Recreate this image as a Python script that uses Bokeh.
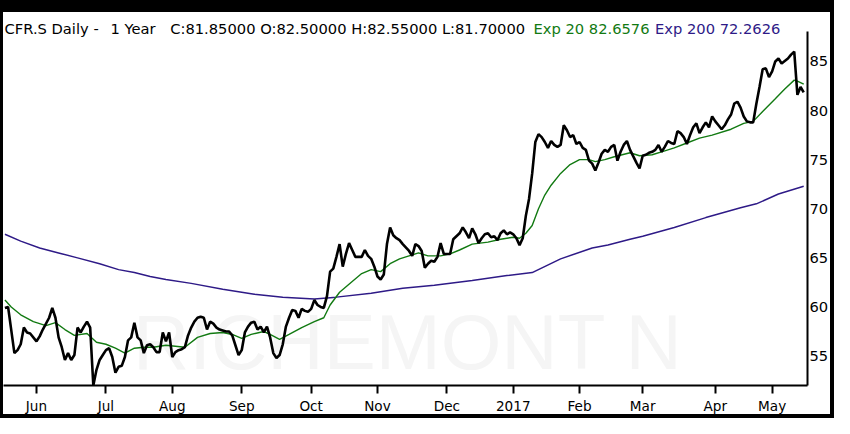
from bokeh.plotting import figure
from bokeh.models import Range1d, FixedTicker, Label
from bokeh.embed import file_html
from bokeh.resources import INLINE
import numpy as np

# ---------------- data ----------------
symbol = "CFR.S"
period = "1 Year"
last_close, last_open, last_high, last_low = 81.85, 82.50, 82.55, 81.70
ema20_last, ema200_last = 82.6576, 72.2626

# trading sessions: 10 sessions of late May 2016, then sessions per month
lead_sessions = 10
month_labels = ["Jun", "Jul", "Aug", "Sep", "Oct", "Nov", "Dec", "2017",
                "Feb", "Mar", "Apr", "May"]
sessions_per_month = [22, 21, 22, 22, 21, 22, 21, 21, 20, 23, 18]

close_day = [0, 1, 3, 4, 5, 6, 7, 8, 10, 11, 12, 14, 15, 16, 17, 18, 19, 20,
             21, 22, 23, 24, 25, 26, 27, 28, 29, 30, 31, 32, 33, 34, 35, 36,
             37, 38, 39, 40, 41, 42, 43, 44, 45, 46, 47, 48, 49, 50, 51, 52,
             53, 54, 55, 56, 57, 58, 59, 60, 61, 62, 63, 64, 65, 66, 67, 68,
             70, 71, 72, 73, 74, 75, 76, 77, 78, 79, 80, 81, 82, 83, 84, 85,
             86, 87, 88, 89, 90, 91, 92, 93, 94, 95, 96, 97, 98, 99, 100, 101,
             102, 103, 104, 105, 106, 107, 108, 109, 110, 111, 113, 114, 115,
             116, 117, 118, 119, 120, 121, 122, 123, 124, 125, 126, 128, 129,
             130, 131, 132, 133, 134, 135, 136, 137, 138, 139, 141, 142, 144,
             145, 146, 147, 148, 149, 150, 151, 152, 153, 154, 155, 156, 157,
             158, 159, 160, 161, 162, 163, 164, 165, 166, 167, 168, 169, 170,
             171, 172, 173, 174, 175, 176, 177, 178, 179, 180, 181, 182, 183,
             184, 185, 186, 187, 188, 189, 190, 191, 192, 193, 194, 195, 196,
             197, 198, 200, 201, 202, 203, 204, 205, 206, 207, 208, 209, 210,
             211, 212, 213, 214, 215, 216, 217, 218, 219, 220, 221, 222, 223,
             224, 225, 226, 227, 228, 229, 230, 231, 232, 233, 234, 235, 236,
             237, 238, 239, 240, 241, 242, 243, 244, 245, 246, 248, 249, 250,
             251, 252, 253]
close = [59.9, 60.0, 55.3, 55.6, 56.2, 57.9, 57.4, 57.3, 56.5, 57.0, 57.7,
         58.9, 59.9, 58.9, 56.9, 55.9, 54.6, 55.3, 54.6, 55.1, 57.9, 57.4,
         58.0, 58.5, 57.9, 52.0, 53.6, 54.6, 55.1, 55.6, 55.8, 54.9, 53.3,
         53.9, 54.0, 54.9, 56.6, 56.9, 58.4, 56.9, 56.6, 55.3, 56.1, 56.2,
         55.9, 55.4, 55.4, 57.4, 56.5, 57.4, 54.9, 55.4, 55.6, 55.7, 55.9,
         57.1, 57.9, 58.5, 58.9, 59.0, 58.9, 57.7, 58.5, 58.3, 57.9, 57.7,
         57.5, 57.5, 57.1, 56.1, 55.1, 55.6, 57.4, 58.0, 58.4, 58.5, 57.7,
         58.0, 57.4, 58.0, 56.9, 55.3, 54.8, 55.1, 56.2, 58.0, 58.9, 59.7,
         59.6, 58.9, 59.8, 59.6, 59.5, 59.8, 60.7, 60.2, 60.0, 59.9, 61.1,
         63.6, 63.9, 65.1, 66.4, 64.1, 65.4, 66.5, 65.8, 65.1, 65.1, 65.8,
         65.2, 64.9, 64.1, 63.1, 62.8, 63.3, 66.4, 68.1, 67.3, 67.0, 66.8,
         66.4, 65.7, 65.2, 66.4, 66.2, 65.7, 64.0, 64.4, 64.7, 64.6, 65.1,
         66.5, 65.4, 65.4, 66.9, 67.5, 68.1, 67.6, 67.0, 68.0, 67.4, 66.5,
         67.0, 67.4, 67.5, 67.1, 67.2, 66.8, 67.5, 67.8, 67.4, 67.6, 67.4,
         67.0, 66.3, 67.0, 69.3, 71.0, 73.6, 76.8, 77.6, 77.3, 76.8, 76.2,
         76.9, 76.5, 76.3, 76.5, 78.5, 78.0, 77.3, 77.5, 76.6, 76.8, 76.2,
         76.0, 74.9, 74.6, 73.9, 74.7, 75.6, 76.0, 75.8, 76.3, 76.5, 74.9,
         75.8, 76.5, 76.9, 76.0, 74.7, 74.1, 75.4, 75.5, 75.7, 75.8, 76.0,
         76.5, 75.8, 76.3, 76.9, 76.7, 76.6, 77.9, 77.7, 77.3, 76.6, 77.5,
         78.3, 78.7, 77.7, 78.3, 78.8, 78.3, 79.4, 78.9, 78.5, 78.1, 78.5,
         79.1, 79.6, 80.7, 80.9, 80.3, 79.4, 78.9, 78.8, 78.8, 80.7, 82.4,
         84.2, 84.3, 83.4, 84.0, 85.0, 85.3, 84.8, 85.3, 85.7, 86.0, 81.6,
         82.4, 81.85]

ema20_day = [0, 2, 5, 9, 13, 16, 19, 22, 26, 29, 32, 35, 38, 41, 44, 47, 51,
             57, 61, 65, 69, 72, 75, 78, 82, 84, 87, 90, 94, 98, 101, 103, 106,
             110, 113, 116, 119, 122, 125, 128, 131, 134, 138, 141, 144, 148,
             153, 157, 161, 163, 165, 167, 169, 171, 173, 176, 179, 182, 185,
             187, 190, 193, 198, 201, 205, 209, 212, 216, 220, 224, 230, 234,
             237, 240, 244, 247, 250, 251, 253]
ema20 = [60.7, 60.0, 59.2, 58.5, 58.1, 58.4, 57.7, 57.1, 57.3, 56.4, 56.2,
         55.8, 55.3, 55.8, 55.9, 55.9, 56.1, 55.9, 56.9, 57.3, 57.4, 57.2,
         56.8, 57.2, 57.5, 57.2, 56.7, 57.2, 57.9, 58.5, 58.9, 60.2, 61.5,
         62.6, 63.4, 63.8, 63.6, 64.4, 64.9, 65.2, 65.5, 65.2, 65.2, 65.4,
         65.8, 66.4, 66.6, 66.9, 67.1, 67.0, 67.5, 68.3, 70.0, 71.4, 72.4,
         73.6, 74.5, 75.0, 75.0, 74.8, 75.0, 75.3, 75.7, 75.4, 75.5, 75.9,
         76.2, 76.7, 77.2, 77.5, 78.1, 78.7, 78.9, 79.9, 81.2, 82.2, 83.1,
         83.0, 82.7]

ema200_day = [0, 5, 11, 17, 23, 30, 36, 41, 46, 51, 59, 69, 79, 88, 98, 105,
              116, 126, 136, 148, 159, 167, 176, 186, 191, 198, 202, 212, 222,
              233, 238, 245, 253]
ema200 = [67.4, 66.7, 66.0, 65.5, 65.0, 64.4, 63.8, 63.5, 63.1, 62.8, 62.4,
          61.8, 61.3, 61.0, 60.8, 61.0, 61.4, 61.9, 62.2, 62.7, 63.2, 63.5,
          64.9, 66.0, 66.3, 66.9, 67.2, 68.1, 69.1, 70.1, 70.5, 71.5, 72.3]

price_ticks = [55, 60, 65, 70, 75, 80, 85]
watermark = "RICHEMONT N"

# ---------------- styles ----------------
GREEN = "#127a12"
PURPLE = "#2e1a87"
FONT = "DejaVu Sans"

month_ticks = [int(v) for v in lead_sessions + np.concatenate([[0], np.cumsum(sessions_per_month)])]

p = figure(width=834, height=418, output_backend="svg", toolbar_location=None,
           title=None, x_range=Range1d(-0.45, 254.2), y_range=Range1d(52.0, 91.21),
           y_axis_location="right", min_border_left=3, min_border_right=27,
           min_border_top=0, min_border_bottom=33)
# black photo frame around the chart (drawn behind a transparent canvas)
p.styles = {"background-color": "white",
            "box-shadow": ("inset 0 12px 0 0 #000, inset 3px 0 0 0 #000, "
                           "inset -4px 0 0 0 #000, inset 0 -4px 0 0 #000")}
p.background_fill_color = None
p.border_fill_color = None
p.outline_line_color = None
p.xgrid.visible = False
p.ygrid.visible = False

# watermark
p.add_layout(Label(x=129.5, y=56.4, x_units="screen", y_units="data", text=watermark,
                   text_font="Liberation Sans", text_font_size="78px",
                   text_color="#f5f5f5", text_baseline="alphabetic", level="underlay"))

p.line(ema200_day, ema200, line_color=PURPLE, line_width=1.5)
p.line(ema20_day, ema20, line_color=GREEN, line_width=1.4)
p.line(close_day, close, line_color="black", line_width=2.6)

# x axis
xa = p.xaxis[0]
xa.ticker = FixedTicker(ticks=month_ticks)
xa.major_label_overrides = {t: lab for t, lab in zip(month_ticks, month_labels)}
xa.minor_tick_line_color = None
xa.major_tick_out = 8
xa.major_tick_in = 0
xa.major_tick_line_width = 2
xa.major_tick_line_color = "black"
xa.axis_line_width = 2
xa.axis_line_color = "black"
xa.major_label_text_font = FONT
xa.major_label_text_font_size = "13.6px"
xa.major_label_text_color = "black"
xa.major_label_standoff = 4

# y axis (right)
ya = p.yaxis[0]
ya.ticker = FixedTicker(ticks=price_ticks)
ya.bounds = (52.0, 88.07)
ya.minor_tick_line_color = None
ya.major_tick_out = 0
ya.major_tick_in = 0
ya.axis_line_width = 2
ya.axis_line_color = "black"
ya.major_label_text_font = FONT
ya.major_label_text_font_size = "14.7px"
ya.major_label_text_color = "black"
ya.major_label_standoff = 2

# header texts
head = [
    (1, f"{symbol} Daily -", "black"),
    (107, period, "black"),
    (166.7, f"C:{last_close:.5f} O:{last_open:.5f} H:{last_high:.5f} L:{last_low:.5f}", "black"),
    (530, f"Exp 20 {ema20_last:.4f}", GREEN),
    (651.5, f"Exp 200 {ema200_last:.4f}", PURPLE),
]
for hx, txt, col in head:
    p.add_layout(Label(x=hx, y=88.37, x_units="screen", y_units="data", text=txt,
                       text_font=FONT, text_font_size="14.7px", text_color=col,
                       text_baseline="alphabetic"))

open("out.html", "w").write(file_html(p, INLINE))
